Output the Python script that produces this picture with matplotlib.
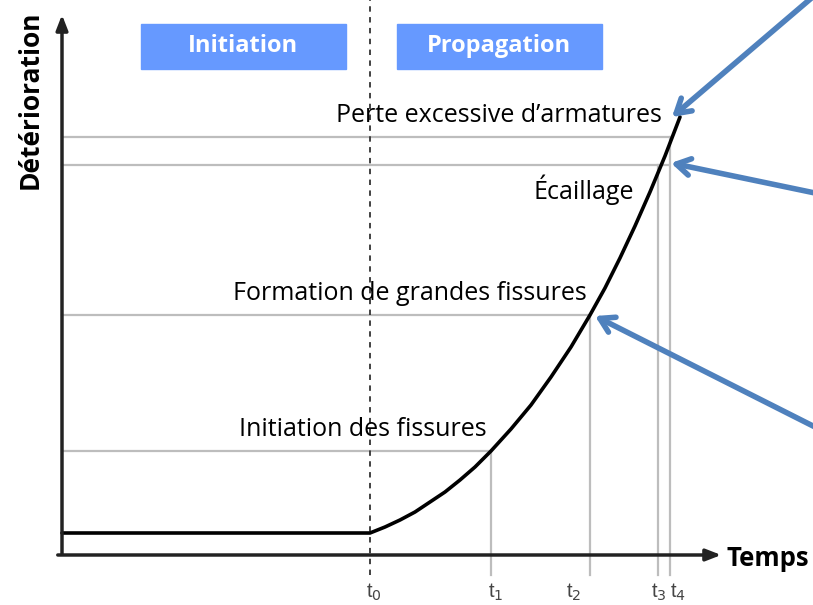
import matplotlib.pyplot as plt
from matplotlib.patches import Rectangle

# curve (time, deterioration)
curve_t = [62, 370, 385, 400, 415, 430, 445, 460, 475, 491, 511, 531, 551,
           571, 590, 605, 620, 635, 650, 665, 680]
curve_d = [22, 22, 28, 35, 43, 53, 63, 75, 88, 104, 126, 150, 178,
           208, 240, 267, 297, 329, 363, 399, 438]

# times t0..t4 and threshold levels
t_labels = ["t$_0$", "t$_1$", "t$_2$", "t$_3$", "t$_4$"]
t_values = [370, 491, 590, 658, 670]
level_names = ["Initiation des fissures", "Formation de grandes fissures",
               "Écaillage", "Perte excessive d\u2019armatures"]
level_values = [104, 240, 390, 418]
level_ends = [491, 590, 668, 670]

phases = ["Initiation", "Propagation"]

blue = "#4F81BD"
box_blue = "#6699FF"
grey = "#BDBDBD"
font = "Open Sans"


def main():
    fig = plt.figure(figsize=(8.13, 6.05), dpi=100)
    ax = fig.add_axes([0, 0, 1, 1])
    ax.set_xlim(0, 813)
    ax.set_ylim(-50, 555)
    ax.axis("off")

    # grey guide lines
    for lvl, end in zip(level_values, level_ends):
        ax.plot([62, end], [lvl, lvl], color=grey, lw=1.6, zorder=1)
    for t, top in zip(t_values[1:], level_values):
        ax.plot([t, t], [-20, top], color=grey, lw=1.6, zorder=1)
    ax.plot([t_values[0], t_values[0]], [-20, 555], color="#333333", lw=1.3,
            ls=(0, (3, 3)), zorder=2)

    # deterioration curve
    ax.plot(curve_t, curve_d, color="black", lw=2.6, solid_capstyle="round",
            solid_joinstyle="round", zorder=3)

    # axes with arrows
    ax.annotate("", xy=(62, 543), xytext=(62, -2),
                arrowprops=dict(arrowstyle="-|>,head_length=0.9,head_width=0.35",
                                color="#222222", lw=2.5))
    ax.annotate("", xy=(724, 0), xytext=(55, 0),
                arrowprops=dict(arrowstyle="-|>,head_length=0.9,head_width=0.35",
                                color="#222222", lw=2.5))
    ax.text(30, 455, "Détérioration", rotation=90, ha="center", va="center",
            fontsize=19, fontweight="bold", family=font)
    ax.text(726, -4, "Temps", ha="left", va="center",
            fontsize=18.5, fontweight="bold", family=font)

    # phase boxes
    for name, x0 in zip(phases, [141, 397]):
        ax.add_patch(Rectangle((x0, 486), 205, 45, color=box_blue, zorder=2))
        ax.text(x0 + 102, 509, name, ha="center", va="center", color="white",
                fontsize=17, fontweight="bold", family=font)

    # level labels
    label_pos = [(487, 125), (587, 262), (634, 365), (662, 439)]
    for name, (x, y) in zip(level_names, label_pos):
        ax.text(x, y, name, ha="right", va="center", fontsize=18, family=font)

    # time tick labels
    label_left = [366, 488, 566, 651, 670]
    for lab, x in zip(t_labels, label_left):
        ax.text(x, -37, lab, ha="left", va="center", fontsize=14.5,
                color="#444444", family="Liberation Sans")

    # blue pointer arrows
    arrows = [((815, 560), (672, 438)), ((815, 362), (671, 392)),
              ((815, 128), (595, 239))]
    for start, end in arrows:
        ax.annotate("", xy=end, xytext=start,
                    arrowprops=dict(arrowstyle="->,head_length=1.0,head_width=0.6",
                                    color=blue, lw=4, shrinkA=0, shrinkB=0))

    fig.savefig("out.png", dpi=100)


if __name__ == "__main__":
    main()
